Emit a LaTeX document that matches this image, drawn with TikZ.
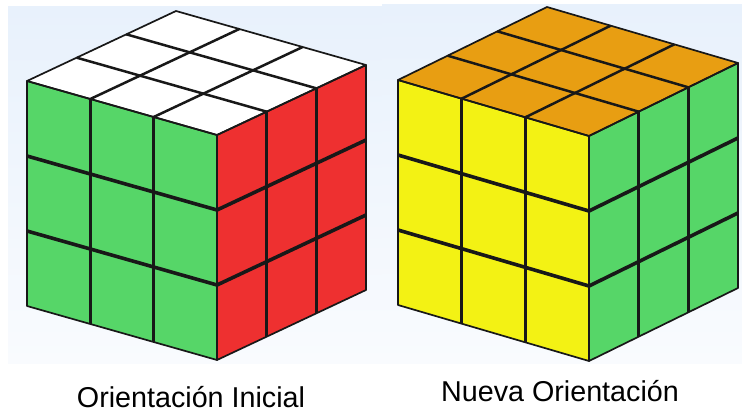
\documentclass[tikz,border=0pt]{standalone}
\usepackage{fontspec}
\setmainfont{Liberation Sans}
\definecolor{cgreen}{HTML}{56D668}
\definecolor{cred}{HTML}{EE3030}
\definecolor{cyellow}{HTML}{F3F214}
\definecolor{corange}{HTML}{E89E12}
\definecolor{cwhite}{HTML}{FFFFFF}
\definecolor{cline}{HTML}{181818}
\definecolor{bgtop}{HTML}{E8F1FC}
\definecolor{bgbot}{HTML}{F9FBFE}
\tikzset{
  sidegrid/.style={draw=cline, line width=3.6pt},
  topgrid/.style={draw=cline, line width=2.5pt},
  edgeline/.style={draw=cline, line width=1.7pt, line join=round},
  caption/.style={font=\fontsize{28.7}{34}\selectfont, anchor=base, inner sep=0pt, text depth=0pt, text=black},
  bgpanel/.style={top color=bgtop, bottom color=bgbot}
}
% #1 Fx, #2 Fy, #3 ax, #4 ay, #5 bx, #6 by, #7 left colour, #8 right colour, #9 top colour
\newcommand\rubikcube[9]{%
  % left face
  \begin{scope}[shift={({#1-#3},{#2-#4})}, x={({#3*1pt},{-(#4)*1pt})}, y={(0pt,-225pt)}]
    \fill[#7] (0,0) -- (1,0) -- (1,1) -- (0,1) -- cycle;
    \foreach \i in {1,2} {
      \draw[sidegrid] ({\i/3},0) -- ({\i/3},1);
      \draw[sidegrid] (0,{\i/3}) -- (1,{\i/3});
    }
  \end{scope}
  % right face
  \begin{scope}[shift={(#1,#2)}, x={({#5*1pt},{-(#6)*1pt})}, y={(0pt,-225pt)}]
    \fill[#8] (0,0) -- (1,0) -- (1,1) -- (0,1) -- cycle;
    \foreach \i in {1,2} {
      \draw[sidegrid] ({\i/3},0) -- ({\i/3},1);
      \draw[sidegrid] (0,{\i/3}) -- (1,{\i/3});
    }
  \end{scope}
  % top face
  \begin{scope}[shift={({#1-#3},{#2-#4})}, x={({#3*1pt},{-(#4)*1pt})}, y={({#5*1pt},{-(#6)*1pt})}]
    \fill[#9] (0,0) -- (1,0) -- (1,1) -- (0,1) -- cycle;
    \foreach \i in {1,2} {
      \draw[topgrid] ({\i/3},0) -- ({\i/3},1);
      \draw[topgrid] (0,{\i/3}) -- (1,{\i/3});
    }
    \draw[edgeline] (0,0) -- (1,0) -- (1,1) -- (0,1) -- cycle;
  \end{scope}
  \begin{scope}[shift={({#1-#3},{#2-#4})}, x={({#3*1pt},{-(#4)*1pt})}, y={(0pt,-225pt)}]
    \draw[edgeline] (0,0) -- (1,0) -- (1,1) -- (0,1) -- cycle;
  \end{scope}
  \begin{scope}[shift={(#1,#2)}, x={({#5*1pt},{-(#6)*1pt})}, y={(0pt,-225pt)}]
    \draw[edgeline] (0,0) -- (1,0) -- (1,1) -- (0,1) -- cycle;
  \end{scope}
}
\begin{document}
\begin{tikzpicture}[x=1pt, y=-1pt]
  \useasboundingbox (0,0) rectangle (742,412);
  \fill[white] (0,0) rectangle (742,412);
  \shade[bgpanel] (8,7) rectangle (382,363);
  \shade[bgpanel] (382,5) rectangle (742,363);
  \rubikcube{217}{135}{190}{54}{149}{-70}{cgreen}{cred}{cwhite}
  \rubikcube{589}{136}{191}{56}{149}{-73}{cyellow}{cgreen}{corange}
  \node[caption] (lblinicial) at (191,407) {Orientación Inicial};
  \node[caption] (lblnueva) at (560,401) {Nueva Orientación};
\end{tikzpicture}
\end{document}
